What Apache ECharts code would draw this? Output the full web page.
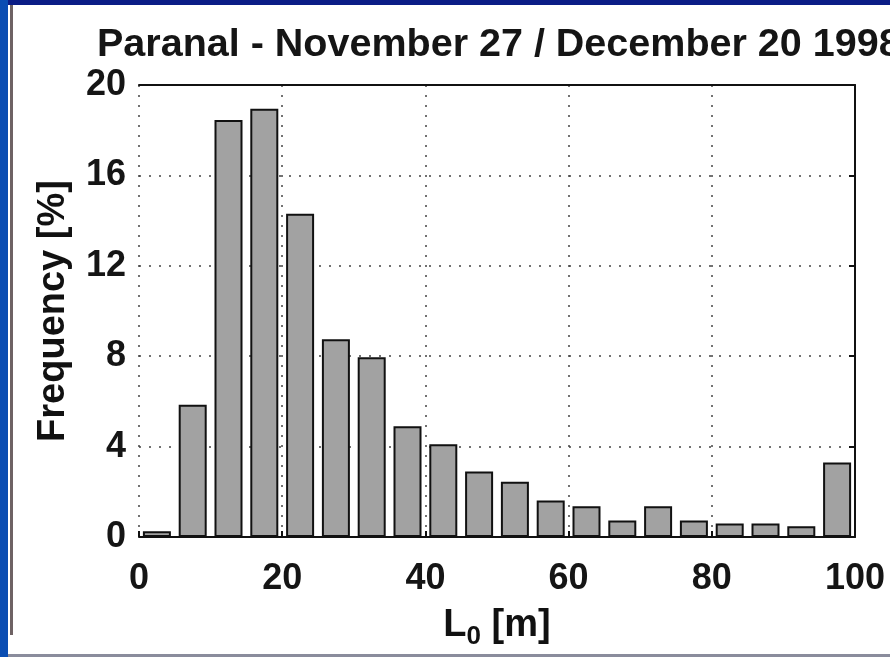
<!DOCTYPE html>
<html>
<head>
<meta charset="utf-8">
<script src="https://cdn.jsdelivr.net/npm/echarts@6/dist/echarts.min.js"></script>
<style>
html,body{margin:0;padding:0;background:#fff;}
#c{width:890px;height:657px;}
</style>
</head>
<body>
<div id="c"></div>
<script>
var titleText = 'Paranal - November 27 / December 20 1998';
var binCenters = [2.5, 7.5, 12.5, 17.5, 22.5, 27.5, 32.5, 37.5, 42.5, 47.5, 52.5, 57.5, 62.5, 67.5, 72.5, 77.5, 82.5, 87.5, 92.5, 97.5];
var frequency = [0.25, 5.85, 18.45, 18.95, 14.3, 8.75, 7.95, 4.9, 4.1, 2.9, 2.45, 1.62, 1.36, 0.73, 1.36, 0.73, 0.6, 0.6, 0.48, 3.3];
var xTicks = [0, 20, 40, 60, 80, 100];
var yTicks = [0, 4, 8, 12, 16, 20];

var FONT = '"Liberation Sans", Arial, sans-serif';
var chart = echarts.init(document.getElementById('c'), null, {renderer: 'canvas'});
var gridLine = {show: true, lineStyle: {color: '#444', width: 1.5, type: [2, 8]}};
var option = {
  backgroundColor: '#fff',
  animation: false,
  title: {
    text: titleText,
    left: 92, top: 20,
    textStyle: {fontFamily: FONT, fontSize: 39.5, fontWeight: 'bold', color: '#151515'}
  },
  grid: {left: 139, right: 35, top: 85, bottom: 120, containLabel: false},
  xAxis: [{
    type: 'value', min: xTicks[0], max: xTicks[xTicks.length - 1], interval: 20,
    position: 'bottom',
    axisLine: {show: true, onZero: false, lineStyle: {color: '#111', width: 2}},
    axisTick: {show: true, inside: true, length: 6, lineStyle: {color: '#111', width: 2}},
    axisLabel: {fontFamily: FONT, fontSize: 36, fontWeight: 'bold', color: '#151515', margin: 24},
    splitLine: gridLine,
    name: '{b|L}{s|0}{b| [m]}',
    nameLocation: 'middle', nameGap: 65,
    nameTextStyle: {
      rich: {
        b: {fontFamily: FONT, fontSize: 38, fontWeight: 'bold', color: '#111', lineHeight: 44},
        s: {fontFamily: FONT, fontSize: 26, fontWeight: 'bold', color: '#111', padding: [22, 0, 0, 0], lineHeight: 44}
      }
    }
  }, {
    type: 'value', min: 0, max: 100, interval: 20, position: 'top',
    axisLine: {show: true, onZero: false, lineStyle: {color: '#111', width: 2}},
    axisTick: {show: false}, axisLabel: {show: false}, splitLine: {show: false}
  }],
  yAxis: [{
    type: 'value', min: yTicks[0], max: yTicks[yTicks.length - 1], interval: 4,
    position: 'left',
    axisLine: {show: false},
    axisTick: {show: false},
    axisLabel: {fontFamily: FONT, fontSize: 36, fontWeight: 'bold', color: '#151515', margin: 13},
    splitLine: gridLine,
    name: 'Frequency [%]',
    nameLocation: 'middle', nameGap: 66, nameRotate: 90,
    nameTextStyle: {fontFamily: FONT, fontSize: 38, fontWeight: 'bold', color: '#111'}
  }, {
    type: 'value', min: 0, max: 20, interval: 4, position: 'right',
    axisLine: {show: true, onZero: false, lineStyle: {color: '#111', width: 2}},
    axisTick: {show: true, inside: true, length: 6, lineStyle: {color: '#111', width: 2}},
    axisLabel: {show: false}, splitLine: {show: false}
  }],
  series: [{
    type: 'bar',
    xAxisIndex: 0, yAxisIndex: 0,
    barWidth: 28,
    data: binCenters.map(function (c, i) { return [c, frequency[i]]; }),
    itemStyle: {color: '#a2a2a2', borderColor: '#111', borderWidth: 2}
  }],
  graphic: [
    {type: 'rect', shape: {x: 0, y: 0, width: 8, height: 657}, style: {fill: '#0a4db3'}, z: 100},
    {type: 'rect', shape: {x: 8, y: 0, width: 882, height: 5}, style: {fill: '#0b1d86'}, z: 100},
    {type: 'rect', shape: {x: 10, y: 5, width: 3, height: 630}, style: {fill: '#6e6264'}, z: 100},
    {type: 'rect', shape: {x: 8, y: 654, width: 882, height: 3}, style: {fill: '#8a8c9c'}, z: 100}
  ]
};
chart.setOption(option);
</script>
</body>
</html>
